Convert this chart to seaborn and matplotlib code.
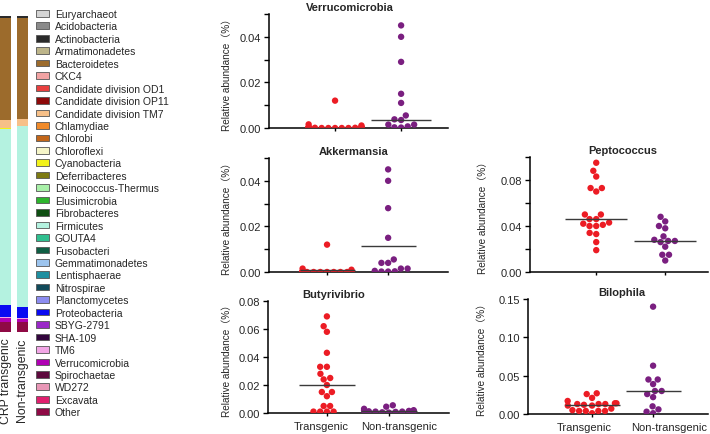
import numpy as np
import pandas as pd
import matplotlib
matplotlib.use("Agg")
import matplotlib.pyplot as plt
import matplotlib.transforms as mtransforms
from matplotlib.patches import Patch
import seaborn as sns

# ---------------- data ----------------
phyla = ["Euryarchaeot", "Acidobacteria", "Actinobacteria", "Armatimonadetes",
         "Bacteroidetes", "CKC4", "Candidate division OD1", "Candidate division OP11",
         "Candidate division TM7", "Chlamydiae", "Chlorobi", "Chloroflexi",
         "Cyanobacteria", "Deferribacteres", "Deinococcus-Thermus", "Elusimicrobia",
         "Fibrobacteres", "Firmicutes", "GOUTA4", "Fusobacteri", "Gemmatimonadetes",
         "Lentisphaerae", "Nitrospirae", "Planctomycetes", "Proteobacteria",
         "SBYG-2791", "SHA-109", "TM6", "Verrucomicrobia", "Spirochaetae", "WD272",
         "Excavata", "Other"]
phyla_colors = ["#d4d4d4", "#8a8a8a", "#2b2b2b", "#bdb58a", "#9c6b2c", "#f2a3a3",
                "#e8403f", "#8e0a0a", "#f7c088", "#f08a2a", "#c2661a", "#f5f5c8",
                "#f2f21a", "#7d7a12", "#a8f0a8", "#2db52d", "#0f4f12", "#b4f2e0",
                "#2fbf8f", "#0f5e44", "#9cc4ee", "#1f8fa0", "#114a5a", "#8c8cf0",
                "#0a0af2", "#9a28c8", "#33063d", "#f2a6e6", "#b000b4", "#5e0a3e",
                "#e896b6", "#e01f6e", "#8f0a45"]
groups_bar = ["CRP transgenic", "Non-transgenic"]
crp_transgenic = [0, 0, 0.6, 0, 32.3, 0, 0, 0, 2.5, 0, 0, 0, 0.3, 0, 0, 0, 0,
                  55.7, 0, 0, 0, 0, 0, 0, 3.8, 0, 0, 0.3, 1.3, 0, 0, 0, 3.2]
non_transgenic = [0, 0, 0.6, 0, 32.0, 0, 0, 0, 2.2, 0, 0, 0, 0.0, 0, 0, 0, 0,
                  57.3, 0, 0, 0, 0, 0, 0, 3.5, 0, 0, 0.3, 1.0, 0, 0, 0, 3.1]

groups = ["Transgenic", "Non-transgenic"]

verruco_t = [0.012, 0.0016, 0.0011, 0.0004, 0.0003, 0.0002, 0.0002, 0.0001, 0.0001,
             0.0001, 0.0001, 0.0, 0.0, 0.0, 0.0, 0.0, 0.0002, 0.0003, 0.0004]
verruco_n = [0.045, 0.040, 0.029, 0.015, 0.011, 0.0055, 0.0038, 0.0035, 0.0015,
             0.0003, 0.0002, 0.0007, 0.0015]
verruco_lines = [0.0002, 0.0036]

akker_t = [0.012, 0.0015, 0.001, 0.0003, 0.0002, 0.0002, 0.0001, 0.0001, 0.0001,
           0.0, 0.0, 0.0, 0.0, 0.0, 0.0, 0.0, 0.0001, 0.0002, 0.0003]
akker_n = [0.045, 0.040, 0.028, 0.015, 0.0055, 0.004, 0.004, 0.0015, 0.0015,
           0.0005, 0.0003, 0.0002, 0.0002]
akker_lines = [0.0008, 0.0113]

butyr_t = [0.069, 0.062, 0.058, 0.043, 0.033, 0.033, 0.028, 0.024, 0.025, 0.020,
           0.015, 0.015, 0.012, 0.005, 0.005, 0.001, 0.001, 0.001, 0.001]
butyr_n = [0.0055, 0.0045, 0.003, 0.002, 0.0018, 0.0015, 0.0015, 0.0012, 0.001,
           0.001, 0.0008, 0.0005, 0.0003]
butyr_lines = [0.020, 0.0015]

pepto_t = [0.095, 0.088, 0.083, 0.073, 0.070, 0.073, 0.050, 0.050, 0.046, 0.046,
           0.042, 0.040, 0.040, 0.041, 0.043, 0.033, 0.034, 0.026, 0.019]
pepto_n = [0.048, 0.044, 0.040, 0.038, 0.031, 0.027, 0.028, 0.026, 0.027, 0.022,
           0.015, 0.015, 0.010]
pepto_lines = [0.046, 0.027]

bilo_t = [0.027, 0.026, 0.021, 0.014, 0.013, 0.013, 0.011, 0.011, 0.012, 0.013,
          0.014, 0.017, 0.007, 0.004, 0.004, 0.001, 0.004, 0.004, 0.005]
bilo_n = [0.140, 0.063, 0.045, 0.045, 0.039, 0.030, 0.030, 0.026, 0.022, 0.010,
          0.006, 0.003, 0.001]
bilo_lines = [0.012, 0.030]

# ---------------- style ----------------
sns.set_style("ticks")
plt.rcParams["font.family"] = ["Liberation Sans", "Noto Sans CJK SC", "DejaVu Sans"]
RED = "#ec1c24"
PURPLE = "#7a1f80"

W, H = 710, 435
fig = plt.figure(figsize=(W / 100, H / 100), dpi=100)


def add_ax(left, top, right, bottom):
    return fig.add_axes([left / W, 1 - bottom / H, (right - left) / W, (bottom - top) / H])


# ---------------- stacked bars ----------------
axb = add_ax(0, 17, 28, 333)
xpos = np.arange(len(groups_bar))
for gi, comp in enumerate([crp_transgenic, non_transgenic]):
    comp = np.array(comp, dtype=float)
    starts = np.concatenate([[0], np.cumsum(comp)[:-1]])
    axb.bar(np.full(len(comp), xpos[gi]), comp, bottom=starts, width=0.62,
            color=phyla_colors, edgecolor="none", linewidth=0)
axb.set_ylim(100, 0)
axb.set_xlim(-0.324, 1.324)
axb.set_xticks(xpos)
axb.set_xticklabels(groups_bar, rotation=90, fontsize=8.8, va="top")
axb.tick_params(axis="x", length=0, pad=4)
axb.set_yticks([])
for s in axb.spines.values():
    s.set_visible(False)

handles = [Patch(facecolor=c, edgecolor="#555555", linewidth=0.6) for c in phyla_colors]
fig.legend(handles, phyla, loc="upper left", bbox_to_anchor=(35.5 / W, 1 - 10 / H),
           frameon=False, fontsize=7.5, handlelength=1.3, handleheight=0.6,
           handletextpad=0.55, labelspacing=0.235, borderpad=0, borderaxespad=0)


# ---------------- swarm panels ----------------
def panel(box, title, tx, vt, vn, lines, majors, labeled, xlim, xlabel_shift,
          ylab_off):
    ax = add_ax(*box)
    df = pd.DataFrame({
        "group": [groups[0]] * len(vt) + [groups[1]] * len(vn),
        "value": list(vt) + list(vn),
    })
    ax.set_xlim(*xlim)
    ax.set_ylim(majors[0], majors[-1])
    sns.swarmplot(data=df, x="group", y="value", hue="group", order=groups,
                  palette=[RED, PURPLE], size=4.6, ax=ax, legend=False,
                  linewidth=0, warn_thresh=1.0)
    ax.set_xlim(*xlim)
    ax.set_ylim(majors[0], majors[-1])
    for i, v in enumerate(lines):
        ax.hlines(v, i - 0.45, i + 0.45, color="#3a3a3a", linewidth=1.0, zorder=3)
    ax.set_yticks(majors)
    ax.set_yticklabels([f"{m:.2f}" if m in labeled else "" for m in majors])
    ax.tick_params(axis="y", length=3.5, width=1.0, labelsize=8, pad=2,
                   direction="out", color="black")
    ax.tick_params(axis="x", length=2.5, width=1.0, direction="out", pad=3,
                   labelsize=8, color="black")
    ax.set_xticks([0, 1])
    if xlabel_shift is not None:
        ax.set_xticklabels(groups)
        for lab, dx in zip(ax.get_xticklabels(), xlabel_shift):
            lab.set_transform(lab.get_transform() +
                              mtransforms.ScaledTranslation(dx / 100, 0, fig.dpi_scale_trans))
    else:
        ax.set_xticklabels(["", ""])
    ax.set_xlabel("")
    ax.set_ylabel("Relative abundance（%）", fontsize=7.2)
    ax.yaxis.set_label_coords(-ylab_off / (box[2] - box[0]), 0.5)
    ax.set_title(title, fontsize=8, fontweight="bold", x=tx, pad=3)
    for s in ["top", "right"]:
        ax.spines[s].set_visible(False)
    for s in ["left", "bottom"]:
        ax.spines[s].set_linewidth(1.1)
        ax.spines[s].set_color("black")
    return ax


panel((269, 15, 448, 129), "Verrucomicrobia", 0.45, verruco_t, verruco_n, verruco_lines,
      [0, 0.01, 0.02, 0.03, 0.04, 0.05], [0, 0.02, 0.04], (-1.0, 1.71), None, 37)
panel((269, 159, 448, 273), "Akkermansia", 0.47, akker_t, akker_n, akker_lines,
      [0, 0.01, 0.02, 0.03, 0.04, 0.05], [0, 0.02, 0.04], (-0.95, 1.98), None, 37)
panel((268, 302, 449, 414), "Butyrivibrio", 0.36, butyr_t, butyr_n, butyr_lines,
      [0, 0.02, 0.04, 0.06, 0.08], [0, 0.02, 0.04, 0.06, 0.08], (-0.95, 1.97),
      (-6, 10), 36)
panel((530, 158, 708, 273), "Peptococcus", 0.52, pepto_t, pepto_n, pepto_lines,
      [0, 0.02, 0.04, 0.06, 0.08, 0.10], [0, 0.04, 0.08], (-0.96, 1.62), None, 42)
panel((528, 300, 708, 415), "Bilophila", 0.52, bilo_t, bilo_n, bilo_lines,
      [0, 0.05, 0.10, 0.15], [0, 0.05, 0.10, 0.15], (-1.05, 1.90), (-8, 16), 41)

fig.savefig("out.png", dpi=100)
